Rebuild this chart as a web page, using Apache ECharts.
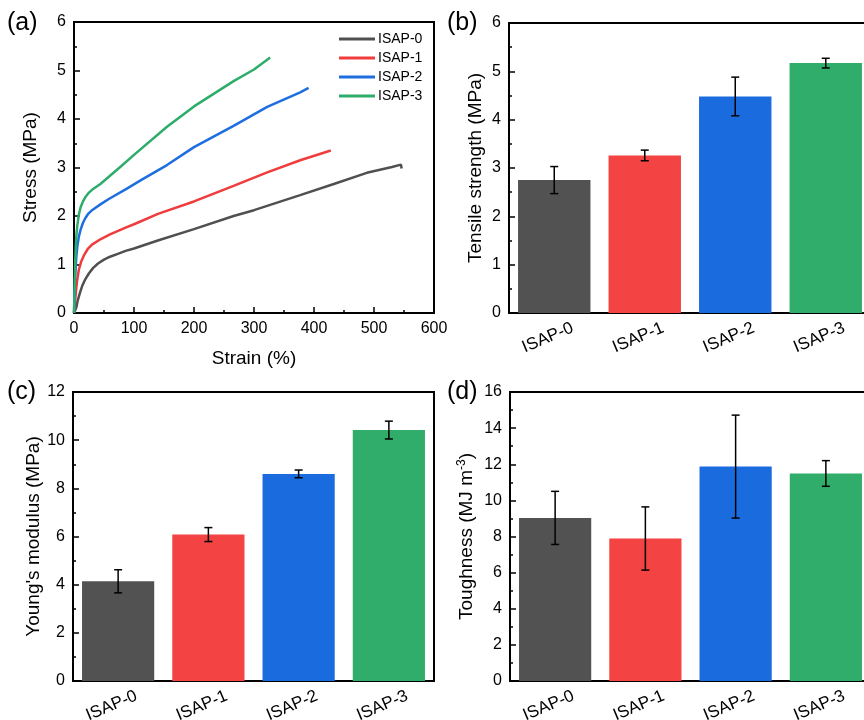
<!DOCTYPE html>
<html>
<head>
<meta charset="utf-8">
<script src="https://cdn.jsdelivr.net/npm/echarts@6/dist/echarts.min.js"></script>
<style>
  html, body { margin: 0; padding: 0; background: #fff; }
  #chart { width: 864px; height: 720px; }
</style>
</head>
<body>
<div id="chart"></div>
<script>
// sample names and colours
const samples = ['ISAP-0', 'ISAP-1', 'ISAP-2', 'ISAP-3']
const lineColors = ['#505050', '#F03C3C', '#1E6EE0', '#2EAD6A']
const barColors = ['#525252', '#F44343', '#1A6BDE', '#31AD6B']

// (a) stress-strain curves, [strain %, stress MPa]
const curve0 = [[0,0],[2,0.02],[4,0.12],[6,0.25],[10,0.42],[14,0.57],[19,0.7],[25,0.82],[32,0.93],[40,1.02],[50,1.1],[60,1.16],[73,1.22],[86,1.28],[100,1.33],[141,1.5],[200,1.73],[266,2.0],[300,2.12],[377,2.43],[433,2.66],[488,2.89],[530,3.01],[545,3.06],[546,2.98]]
const curve1 = [[0,0],[1.5,0.2],[3,0.41],[5,0.65],[8,0.89],[12,1.06],[17,1.2],[23,1.32],[30,1.41],[44,1.52],[60,1.62],[86,1.76],[100,1.83],[141,2.05],[200,2.3],[266,2.62],[322,2.9],[377,3.15],[428,3.35]]
const curve2 = [[0,0],[1,0.4],[2,0.75],[3,0.98],[4,1.18],[5.5,1.37],[8,1.57],[11,1.72],[15,1.86],[19,1.96],[24,2.05],[30,2.12],[44,2.24],[58,2.35],[86,2.55],[113,2.75],[155,3.05],[200,3.42],[266,3.86],[322,4.25],[377,4.55],[391,4.64]]
const curve3 = [[0,0],[1,0.55],[2,1.05],[3,1.37],[4,1.6],[5.5,1.8],[8,2.02],[11,2.18],[15,2.3],[19,2.39],[24,2.47],[30,2.54],[44,2.66],[60,2.83],[78,3.02],[100,3.26],[155,3.84],[200,4.26],[266,4.78],[300,5.02],[327,5.27]]
const curves = [curve0, curve1, curve2, curve3]

// (b) tensile strength, MPa
const strength = [2.75, 3.26, 4.48, 5.17]
const strengthErr = [0.28, 0.11, 0.4, 0.1]
// (c) Young's modulus, MPa
const modulus = [4.14, 6.08, 8.6, 10.42]
const modulusErr = [0.48, 0.29, 0.16, 0.37]
// (d) toughness, MJ m^-3
const toughness = [9.03, 7.89, 11.87, 11.49]
const toughnessErr = [1.47, 1.75, 2.85, 0.71]

const FONT = 'Liberation Sans, Arial, sans-serif'
const chart = echarts.init(document.getElementById('chart'))

const grids = [
    { left: 74, top: 22, width: 360, height: 291 },
    { left: 509, top: 23, width: 362, height: 290 },
    { left: 73, top: 392, width: 361, height: 289 },
    { left: 510, top: 392, width: 361, height: 289 }
].map(g => Object.assign(g, {
    show: true, borderColor: '#000', borderWidth: 2, backgroundColor: 'transparent',
    outerBoundsMode: 'none', containLabel: false
}))

const axisLine = { lineStyle: { color: '#000', width: 2 } }
const tickLabel = { color: '#000', fontSize: 16, fontFamily: FONT }
const nameStyle = { color: '#000', fontSize: 19, fontFamily: FONT }

function valueY(gridIndex, max, interval, name, gap) {
    return {
        type: 'value', gridIndex, min: 0, max, interval,
        name, nameLocation: 'middle', nameGap: gap, nameRotate: 90,
        nameTextStyle: nameStyle,
        axisLine: Object.assign({ show: true }, axisLine),
        axisTick: { show: true, inside: true, length: 6, lineStyle: { color: '#000', width: 1.5 } },
        minorTick: { show: true, splitNumber: 2, length: 3, lineStyle: { color: '#000', width: 1.5 } },
        axisLabel: Object.assign({ margin: 8 }, tickLabel),
        splitLine: { show: false }
    }
}

function catX(gridIndex) {
    return {
        type: 'category', gridIndex, data: samples,
        axisLine: axisLine,
        axisTick: { show: false },
        axisLabel: Object.assign({}, tickLabel, {
            rotate: 23, margin: 22, interval: 0, fontSize: 17,
            align: 'center', verticalAlign: 'middle', padding: [0, 14, 0, 0]
        }),
        splitLine: { show: false }
    }
}

function barSeries(idx, values) {
    return {
        type: 'bar', xAxisIndex: idx, yAxisIndex: idx, barWidth: '80%',
        data: values.map((v, i) => ({ value: v, itemStyle: { color: barColors[i] } })),
        silent: true
    }
}

function errSeries(idx, values, errs) {
    return {
        type: 'custom', xAxisIndex: idx, yAxisIndex: idx, z: 5, silent: true,
        data: values.map((v, i) => [i, v - errs[i], v + errs[i]]),
        renderItem: (params, api) => {
            const lo = api.coord([api.value(0), api.value(1)])
            const hi = api.coord([api.value(0), api.value(2)])
            const style = { stroke: '#000', lineWidth: 1.5 }
            const w = 4
            return {
                type: 'group',
                children: [
                    { type: 'line', shape: { x1: lo[0], y1: lo[1], x2: hi[0], y2: hi[1] }, style },
                    { type: 'line', shape: { x1: lo[0] - w, y1: lo[1], x2: lo[0] + w, y2: lo[1] }, style },
                    { type: 'line', shape: { x1: hi[0] - w, y1: hi[1], x2: hi[0] + w, y2: hi[1] }, style }
                ]
            }
        }
    }
}

const lineSeries = curves.map((c, i) => ({
    name: samples[i], type: 'line', xAxisIndex: 0, yAxisIndex: 0,
    data: c, showSymbol: false, smooth: false,
    lineStyle: { color: lineColors[i], width: 2.5 },
    itemStyle: { color: lineColors[i] },
    silent: true
}))

const panelLabel = (text, x, y) => ({
    type: 'text', left: x, top: y,
    style: { text, fill: '#000', font: '25px ' + FONT }
})

chart.setOption({
    animation: false,
    grid: grids,
    legend: {
        data: samples, left: 334, top: 27,
        orient: 'vertical', itemWidth: 36, itemHeight: 3, itemGap: 5,
        textStyle: { color: '#000', fontSize: 14, fontFamily: FONT, padding: [0, 0, 0, -2] },
        icon: 'rect'
    },
    xAxis: [
        {
            type: 'value', gridIndex: 0, min: 0, max: 600, interval: 100,
            name: 'Strain (%)', nameLocation: 'middle', nameGap: 36,
            nameTextStyle: nameStyle,
            axisLine: axisLine,
            axisTick: { show: true, inside: true, length: 6, lineStyle: { color: '#000', width: 1.5 } },
            minorTick: { show: true, splitNumber: 2, length: 3, lineStyle: { color: '#000', width: 1.5 } },
            axisLabel: Object.assign({ margin: 8 }, tickLabel),
            splitLine: { show: false }
        },
        catX(1), catX(2), catX(3)
    ],
    yAxis: [
        valueY(0, 6, 1, 'Stress (MPa)', 34),
        valueY(1, 6, 1, 'Tensile strength (MPa)', 24),
        valueY(2, 12, 2, "Young's modulus (MPa)", 30),
        Object.assign(valueY(3, 16, 2, '{a|Toughness (MJ m}{s|-3}{a|)}', 32), {
            nameTextStyle: Object.assign({}, nameStyle, {
                rich: {
                    a: { fontSize: 19, fontFamily: FONT, color: '#000' },
                    s: { fontSize: 12, fontFamily: FONT, color: '#000', verticalAlign: 'top', padding: [0, 0, 10, 0] }
                }
            })
        })
    ],
    graphic: [
        panelLabel('(a)', 7, 11),
        panelLabel('(b)', 447, 11),
        panelLabel('(c)', 7, 380),
        panelLabel('(d)', 447, 380)
    ],
    series: [
        ...lineSeries,
        barSeries(1, strength), errSeries(1, strength, strengthErr),
        barSeries(2, modulus), errSeries(2, modulus, modulusErr),
        barSeries(3, toughness), errSeries(3, toughness, toughnessErr)
    ]
})
</script>
</body>
</html>
